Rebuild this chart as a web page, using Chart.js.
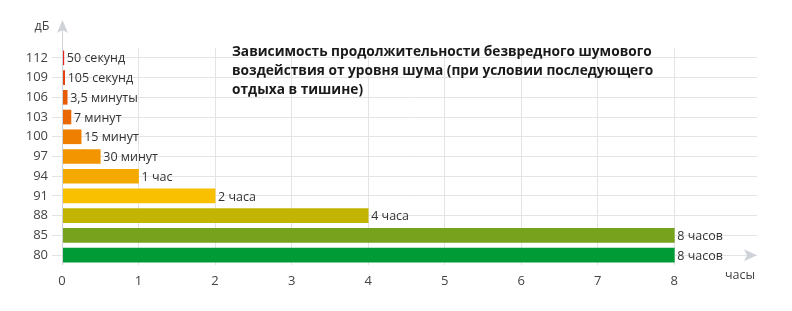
<!DOCTYPE html>
<html>
<head>
<meta charset="utf-8">
<script src="https://cdn.jsdelivr.net/npm/chart.js@4"></script>
<style>
  html, body { margin: 0; padding: 0; background: #fff; }
  #wrap { width: 792px; height: 311px; position: relative; }
</style>
</head>
<body>
<div id="wrap"><canvas id="noiseChart"></canvas></div>
<script>
const levels = ["112","109","106","103","100","97","94","91","88","85","80"];
// safe exposure duration, hours
const hours = [0.024, 0.035, 0.068, 0.117, 0.25, 0.5, 1, 2, 4, 8, 8];
const durationLabels = ["50 секунд","105 секунд","3,5 минуты","7 минут","15 минут","30 минут","1 час","2 часа","4 часа","8 часов","8 часов"];
const hourTicks = [0,1,2,3,4,5,6,7,8];
const titleLines = [
  "Зависимость продолжительности безвредного шумового",
  "воздействия от уровня шума (при условии последующего",
  "отдыха в тишине)"
];

// top / bottom colour of each bar
const barTop = ['#f03a2c','#ef5522','#f06a14','#f07510','#f28c10','#f6a214','#f8b414','#fbcb10','#ddcc10','#a8c008','#3fb040'];
const barBottom = ['#e8261c','#e4420e','#e85c08','#ea6804','#ee7f00','#f29500','#f4a900','#f8c000','#c2b400','#76a21e','#009a36'];

const FONT = '"Open Sans", "DejaVu Sans", sans-serif';

const extras = {
  id: 'extras',
  afterDatasetsDraw(chart) {
    const ctx = chart.ctx;
    const meta = chart.getDatasetMeta(0);
    ctx.save();
    ctx.font = '12.5px ' + FONT;
    ctx.fillStyle = '#333';
    ctx.textBaseline = 'middle';
    ctx.textAlign = 'left';
    meta.data.forEach((bar, i) => {
      ctx.fillText(durationLabels[i], bar.x + 3, bar.y + 1);
    });
    ctx.restore();
  },
  afterDraw(chart) {
    const ctx = chart.ctx;
    const area = chart.chartArea;
    const xs = chart.scales.x, ys = chart.scales.y;
    const x0 = xs.getPixelForValue(0);
    const yLast = ys.getPixelForValue(levels.length - 1);
    ctx.save();
    // y axis line + arrow
    ctx.strokeStyle = '#d0d3d8';
    ctx.lineWidth = 1;
    ctx.beginPath();
    ctx.moveTo(x0 + 0.5, area.bottom);
    ctx.lineTo(x0 + 0.5, 30);
    ctx.stroke();
    ctx.fillStyle = '#cfd2d8';
    ctx.beginPath();
    ctx.moveTo(x0 + 0.5, 20);
    ctx.lineTo(x0 - 5, 33);
    ctx.lineTo(x0 + 0.5, 30);
    ctx.lineTo(x0 + 6, 33);
    ctx.closePath();
    ctx.fill();
    // x arrow
    const ax = area.right;
    ctx.beginPath();
    ctx.moveTo(ax, yLast);
    ctx.lineTo(ax - 13, yLast - 6);
    ctx.lineTo(ax - 10, yLast);
    ctx.lineTo(ax - 13, yLast + 6);
    ctx.closePath();
    ctx.fill();
    // axis names
    ctx.fillStyle = '#444';
    ctx.font = '12.5px ' + FONT;
    ctx.textAlign = 'center';
    ctx.textBaseline = 'middle';
    ctx.fillText('дБ', 42, 26);
    ctx.fillText('часы', 740, 275);
    // title
    ctx.fillStyle = '#1a1a1a';
    ctx.font = 'bold 13.7px ' + FONT;
    ctx.textAlign = 'left';
    titleLines.forEach((t, i) => ctx.fillText(t, 232, 52 + i * 19));
    ctx.restore();
  }
};

new Chart(document.getElementById('noiseChart'), {
  type: 'bar',
  data: {
    labels: levels,
    datasets: [{
      data: hours,
      barThickness: 14,
      borderWidth: 0,
      borderSkipped: false,
      backgroundColor(c) {
        const chart = c.chart;
        const el = chart.getDatasetMeta(0).data[c.dataIndex];
        if (!el || el.y === undefined || isNaN(el.y)) return barBottom[c.dataIndex];
        const g = chart.ctx.createLinearGradient(0, el.y - 7, 0, el.y + 7);
        g.addColorStop(0, barTop[c.dataIndex]);
        g.addColorStop(0.35, barBottom[c.dataIndex]);
        g.addColorStop(1, barBottom[c.dataIndex]);
        return g;
      }
    }]
  },
  options: {
    indexAxis: 'y',
    responsive: true,
    maintainAspectRatio: false,
    animation: false,
    layout: { padding: { left: 0, right: 35, top: 48, bottom: 0 } },
    plugins: { legend: { display: false }, tooltip: { enabled: false } },
    scales: {
      x: {
        min: 0,
        max: 9.08,
        afterBuildTicks(s) { s.ticks = hourTicks.map(v => ({ value: v })); },
        afterFit(s) { s.height = 46; },
        grid: { color: '#e4e4e4', drawTicks: false },
        border: { display: false },
        ticks: { color: '#444', font: { family: FONT, size: 13 }, padding: 8 }
      },
      y: {
        afterFit(s) { s.width = 62; },
        grid: { color: '#e4e4e4', offset: false, tickLength: 10 },
        border: { display: false },
        ticks: { color: '#444', font: { family: FONT, size: 13 }, padding: 4 }
      }
    }
  },
  plugins: [extras]
});
</script>
</body>
</html>
